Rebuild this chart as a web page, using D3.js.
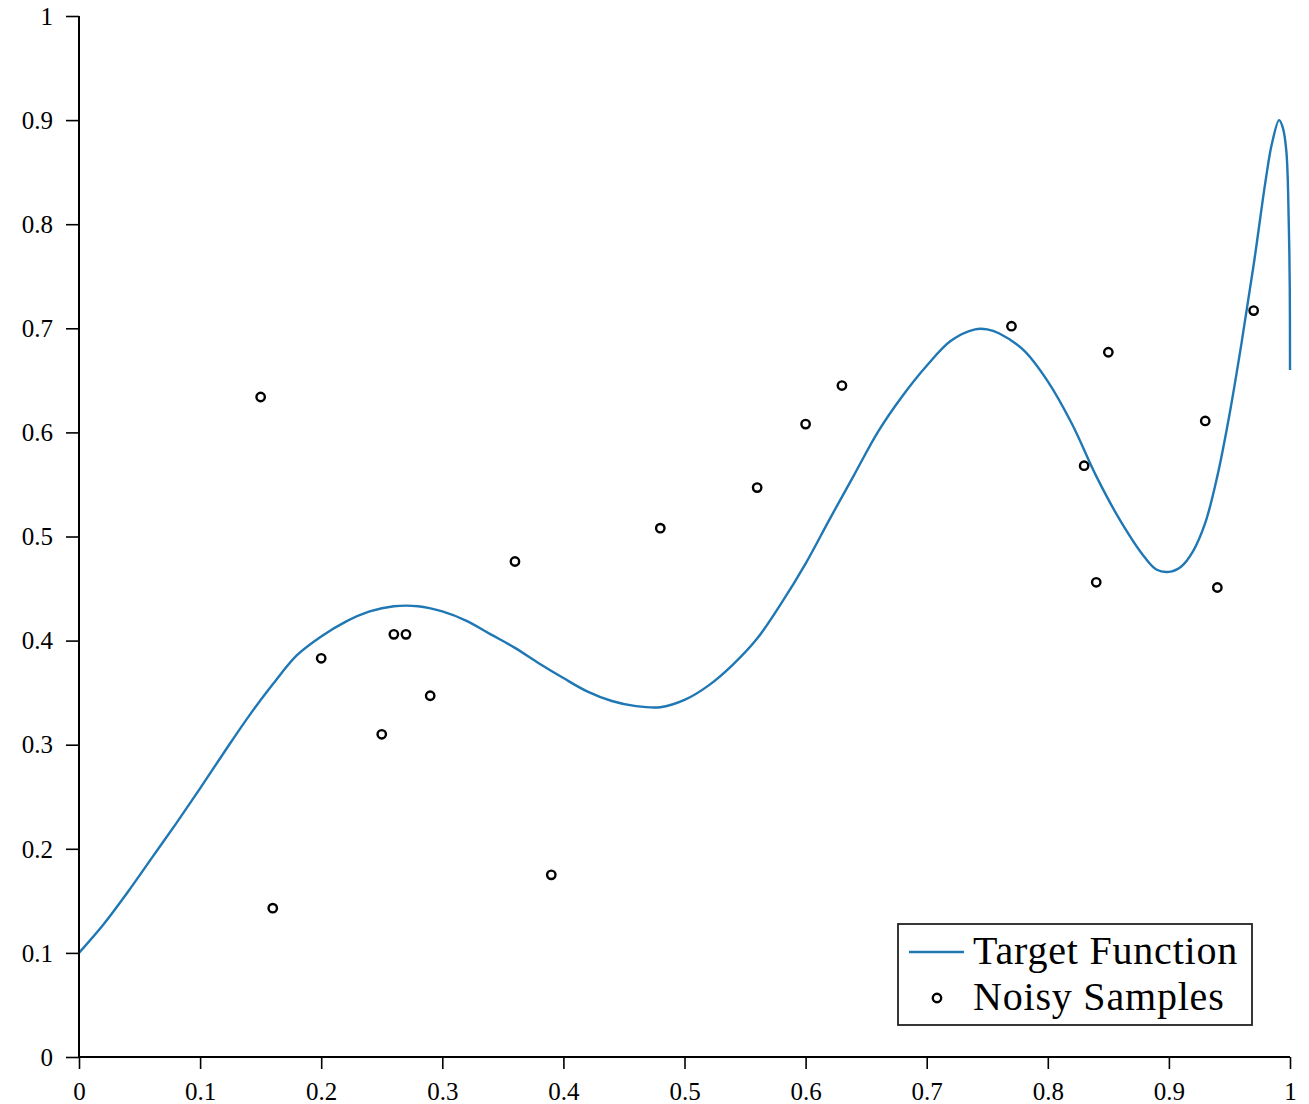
<!DOCTYPE html>
<html>
<head>
<meta charset="utf-8">
<script src="https://cdn.jsdelivr.net/npm/d3@7"></script>
<style>
  html, body { margin: 0; padding: 0; background: #fff; }
  svg { display: block; }
  text { font-family: "Liberation Serif", "DejaVu Serif", serif; fill: #000; }
</style>
</head>
<body>
<svg id="chart" width="1309" height="1104"></svg>
<script>
// ---- data ----
const curveX = [0.00,0.02,0.04,0.06,0.08,0.10,0.12,0.14,0.16,0.18,0.20,0.22,0.24,0.26,0.28,0.30,0.32,0.34,0.36,0.38,0.40,0.42,0.44,0.46,0.48,0.50,0.52,0.54,0.56,0.58,0.60,0.62,0.64,0.66,0.68,0.70,0.72,0.74,0.75,0.76,0.78,0.80,0.82,0.84,0.86,0.88,0.89,0.90,0.91,0.92,0.93,0.94,0.95,0.96,0.97,0.98,0.985,0.991,0.994,0.997,0.999,0.9998,1.00];
const curveY = [0.100,0.127,0.158,0.191,0.224,0.258,0.293,0.327,0.358,0.386,0.404,0.418,0.428,0.433,0.433,0.428,0.419,0.406,0.393,0.378,0.364,0.351,0.342,0.337,0.336,0.343,0.357,0.377,0.402,0.436,0.474,0.517,0.559,0.601,0.635,0.664,0.688,0.699,0.699,0.695,0.679,0.649,0.608,0.558,0.515,0.480,0.468,0.466,0.471,0.486,0.513,0.558,0.617,0.686,0.761,0.843,0.877,0.900,0.893,0.870,0.800,0.740,0.660];
const sampleX = [0.15,0.16,0.20,0.25,0.26,0.27,0.29,0.36,0.39,0.48,0.56,0.60,0.63,0.77,0.83,0.84,0.85,0.93,0.94,0.97];
const sampleY = [0.634,0.143,0.383,0.310,0.406,0.406,0.347,0.476,0.175,0.508,0.547,0.608,0.645,0.702,0.568,0.456,0.677,0.611,0.451,0.717];
const xTicks = [0,0.1,0.2,0.3,0.4,0.5,0.6,0.7,0.8,0.9,1];
const yTicks = [0,0.1,0.2,0.3,0.4,0.5,0.6,0.7,0.8,0.9,1];
const legendLabels = ["Target Function", "Noisy Samples"];

// ---- layout ----
const svg = d3.select("#chart");
const x = d3.scaleLinear().domain([0, 1]).range([79, 1290]);
const y = d3.scaleLinear().domain([0, 1]).range([1057, 16]);
const blue = "#1f77b4";
const fmt = d => d === 0 ? "0" : d === 1 ? "1" : d3.format(".1f")(d);

// curve
const line = d3.line()
  .x((d, i) => x(curveX[i]))
  .y((d, i) => y(curveY[i]))
  .curve(d3.curveCatmullRom.alpha(0.5));
svg.append("path")
  .datum(curveY)
  .attr("d", line)
  .attr("fill", "none")
  .attr("stroke", blue)
  .attr("stroke-width", 2.4)
  .attr("stroke-linejoin", "round");

// samples
svg.append("g").selectAll("circle")
  .data(sampleX)
  .join("circle")
  .attr("cx", d => x(d))
  .attr("cy", (d, i) => y(sampleY[i]))
  .attr("r", 4.2)
  .attr("fill", "none")
  .attr("stroke", "#000")
  .attr("stroke-width", 2.4);

// axes
const xAxis = d3.axisBottom(x).tickValues(xTicks).tickSize(12).tickFormat(fmt);
const yAxis = d3.axisLeft(y).tickValues(yTicks).tickSize(13).tickFormat(fmt);

const gx = svg.append("g").attr("transform", "translate(0,1057)").call(xAxis);
gx.select(".domain").remove();
gx.selectAll(".tick line").attr("stroke", "#000").attr("stroke-width", 1.6);
gx.selectAll(".tick text")
  .attr("y", 43).attr("dy", 0)
  .style("font-family", '"Liberation Serif", "DejaVu Serif", serif')
  .style("font-size", "25px").attr("fill", "#000");

const gy = svg.append("g").attr("transform", "translate(79,0)").call(yAxis);
gy.select(".domain").remove();
gy.selectAll(".tick line").attr("stroke", "#000").attr("stroke-width", 1.6);
gy.selectAll(".tick text")
  .attr("x", -26).attr("dy", "0.33em")
  .style("font-family", '"Liberation Serif", "DejaVu Serif", serif')
  .style("font-size", "25px").attr("fill", "#000");

// axis lines
svg.append("line").attr("x1", x(0)).attr("x2", x(0)).attr("y1", y(1)).attr("y2", y(0))
  .attr("stroke", "#000").attr("stroke-width", 2);
svg.append("line").attr("x1", x(0) - 1).attr("x2", x(1)).attr("y1", y(0)).attr("y2", y(0))
  .attr("stroke", "#000").attr("stroke-width", 2);

// legend
const lg = svg.append("g");
lg.append("rect").attr("x", 898).attr("y", 924).attr("width", 354).attr("height", 101)
  .attr("fill", "#fff").attr("stroke", "#222").attr("stroke-width", 1.8);
lg.append("line").attr("x1", 909).attr("x2", 964).attr("y1", 952).attr("y2", 952)
  .attr("stroke", blue).attr("stroke-width", 2.4);
lg.append("circle").attr("cx", 937).attr("cy", 998).attr("r", 4.2)
  .attr("fill", "none").attr("stroke", "#000").attr("stroke-width", 2.4);
lg.selectAll("text.lab").data(legendLabels).join("text")
  .attr("class", "lab")
  .attr("x", 973)
  .attr("y", (d, i) => 964 + i * 46)
  .style("font-size", "40px")
  .style("letter-spacing", "0.8px")
  .text(d => d);
</script>
</body>
</html>
